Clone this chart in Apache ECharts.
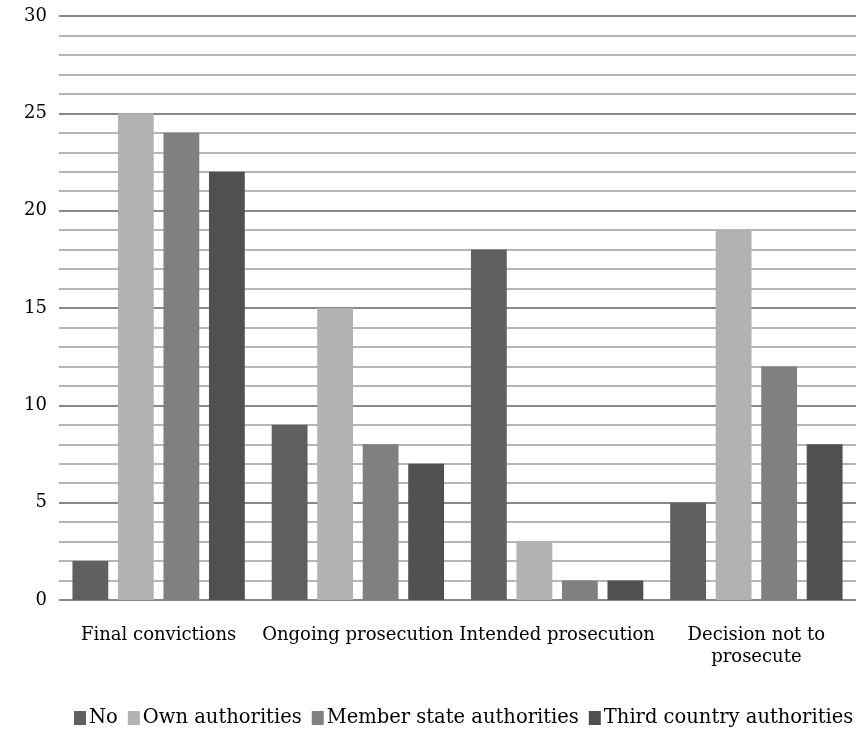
<!DOCTYPE html>
<html><head><meta charset="utf-8">
<script src="https://cdn.jsdelivr.net/npm/echarts@6/dist/echarts.min.js"></script>
<style>html,body{margin:0;padding:0;background:#fff}#c{width:857px;height:737px}</style>
</head><body><div id="c"></div>
<script>
const categories = ['Final convictions', 'Ongoing prosecution', 'Intended prosecution', 'Decision not to\nprosecute'];
const seriesNames = ['No', 'Own authorities', 'Member state authorities', 'Third country authorities'];
const noValues = [2, 9, 18, 5];
const ownValues = [25, 15, 3, 19];
const memberValues = [24, 8, 1, 12];
const thirdValues = [22, 7, 1, 8];
const colors = ['#606060', '#b2b2b2', '#808080', '#505050'];
const allValues = [noValues, ownValues, memberValues, thirdValues];
const font = '"DejaVu Serif", "Liberation Serif", serif';

const chart = echarts.init(document.getElementById('c'), null, {renderer: 'canvas'});
chart.setOption({
  animation: false,
  textStyle: {fontFamily: font},
  grid: {left: 59, right: 1, top: 16, bottom: 137, containLabel: false},
  legend: {
    bottom: 4, left: 74, width: 783, itemWidth: 12, itemHeight: 14, itemGap: 10,
    icon: 'rect', padding: [5, 0, 5, 0],
    textStyle: {fontFamily: font, fontSize: 19.5, color: '#000', padding: [0, 0, 0, -2]},
    data: seriesNames
  },
  xAxis: {
    type: 'category', data: categories,
    axisLine: {show: false}, axisTick: {show: false},
    axisLabel: {color: '#000', fontSize: 18, fontFamily: font, margin: 24, lineHeight: 22, interval: 0}
  },
  yAxis: {
    type: 'value', min: 0, max: 30, interval: 5,
    axisLine: {show: false}, axisTick: {show: false},
    axisLabel: {color: '#000', fontSize: 18, fontFamily: font, margin: 12},
    splitLine: {lineStyle: {color: '#888888', width: 2}},
    minorTick: {show: false, splitNumber: 5},
    minorSplitLine: {show: true, lineStyle: {color: '#b6b6b6', width: 2}}
  },
  series: allValues.map((vals, i) => ({
    name: seriesNames[i], type: 'bar', data: vals,
    itemStyle: {color: colors[i]},
    barGap: '27%', barCategoryGap: '13.5%'
  }))
});
</script></body></html>
